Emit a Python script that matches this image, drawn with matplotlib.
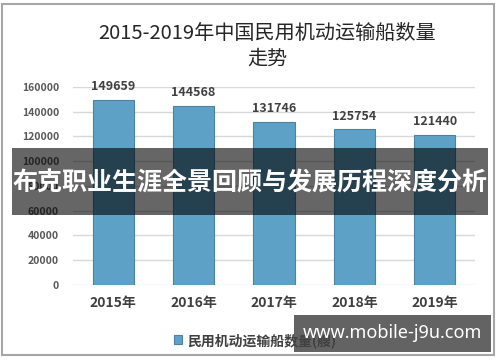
import matplotlib
matplotlib.use("Agg")
import matplotlib.pyplot as plt
from matplotlib.patches import Rectangle

plt.rcParams['font.family'] = ['Noto Sans CJK SC', 'DejaVu Sans']

years = ['2015年', '2016年', '2017年', '2018年', '2019年']
ships = [149659, 144568, 131746, 125754, 121440]
yticks = [0, 20000, 40000, 60000, 80000, 100000, 120000, 140000, 160000]

title = '2015-2019年中国民用机动运输船数量\n走势'
legend_label = '民用机动运输船数量(艘)'
banner_text = '布克职业生涯全景回顾与发展历程深度分析'
site_text = 'www.mobile-j9u.com'

fig = plt.figure(figsize=(5, 3.62), dpi=100)
ax = fig.add_axes([0.146, 0.2127, 0.804, 0.547])

x = range(len(years))
bars = ax.bar(x, ships, width=0.51, color='#5da2c6', edgecolor='#4b82a0',
              linewidth=0.8, zorder=3, label=legend_label)
for xi, v in zip(x, ships):
    ax.text(xi, v + 5500, str(v), ha='center', va='bottom', fontsize=9,
            fontweight='bold', color='#404040')

ax.set_xlim(-0.5, len(years) - 0.5)
ax.set_ylim(0, 160000)
ax.set_yticks(yticks)
ax.set_yticklabels([str(t) for t in yticks], fontsize=7.5, fontweight='bold',
                   color='#595959')
ax.set_xticks(list(x))
ax.set_xticklabels(years, fontsize=10, fontweight='bold', color='#404040')
ax.tick_params(axis='both', length=0)
ax.tick_params(axis='y', pad=10)
ax.tick_params(axis='x', pad=8)
ax.grid(axis='y', color='#d9d9d9', linewidth=1, zorder=0)
for s in ax.spines.values():
    s.set_visible(False)

fig.text(0.535, 0.872, title, ha='center', va='center', fontsize=14.5,
         fontweight='medium', color='#262626', linespacing=1.35)

leg = fig.legend(handles=[bars], labels=[legend_label], loc='center',
                 bbox_to_anchor=(0.51, 0.06), frameon=False, handlelength=0.6,
                 handleheight=0.6, handletextpad=0.4,
                 prop={'size': 10, 'weight': 'bold'})
for t in leg.get_texts():
    t.set_color('#404040')

# outer border
fig.patches.append(Rectangle((0.003, 0.019), 0.985, 0.97, transform=fig.transFigure,
                             fill=False, edgecolor='#a6a6a6', linewidth=1.5))

# overlay banner
fig.patches.append(Rectangle((0.024, 0.406), 0.952, 0.185, transform=fig.transFigure,
                             facecolor='black', alpha=0.6, edgecolor='none', zorder=5))
fig.text(0.5, 0.4945, banner_text, ha='center', va='center', fontsize=18,
         fontweight='bold', color='white', zorder=6)

# site watermark
fig.patches.append(Rectangle((0.588, 0.028), 0.394, 0.102, transform=fig.transFigure,
                             facecolor='#636363', edgecolor='none', zorder=5))
fig.text(0.785, 0.079, site_text, ha='center', va='center', fontsize=13,
         fontweight='bold', color='white', family=['Noto Sans', 'DejaVu Sans'],
         zorder=6)

fig.savefig('out.png', dpi=100)
